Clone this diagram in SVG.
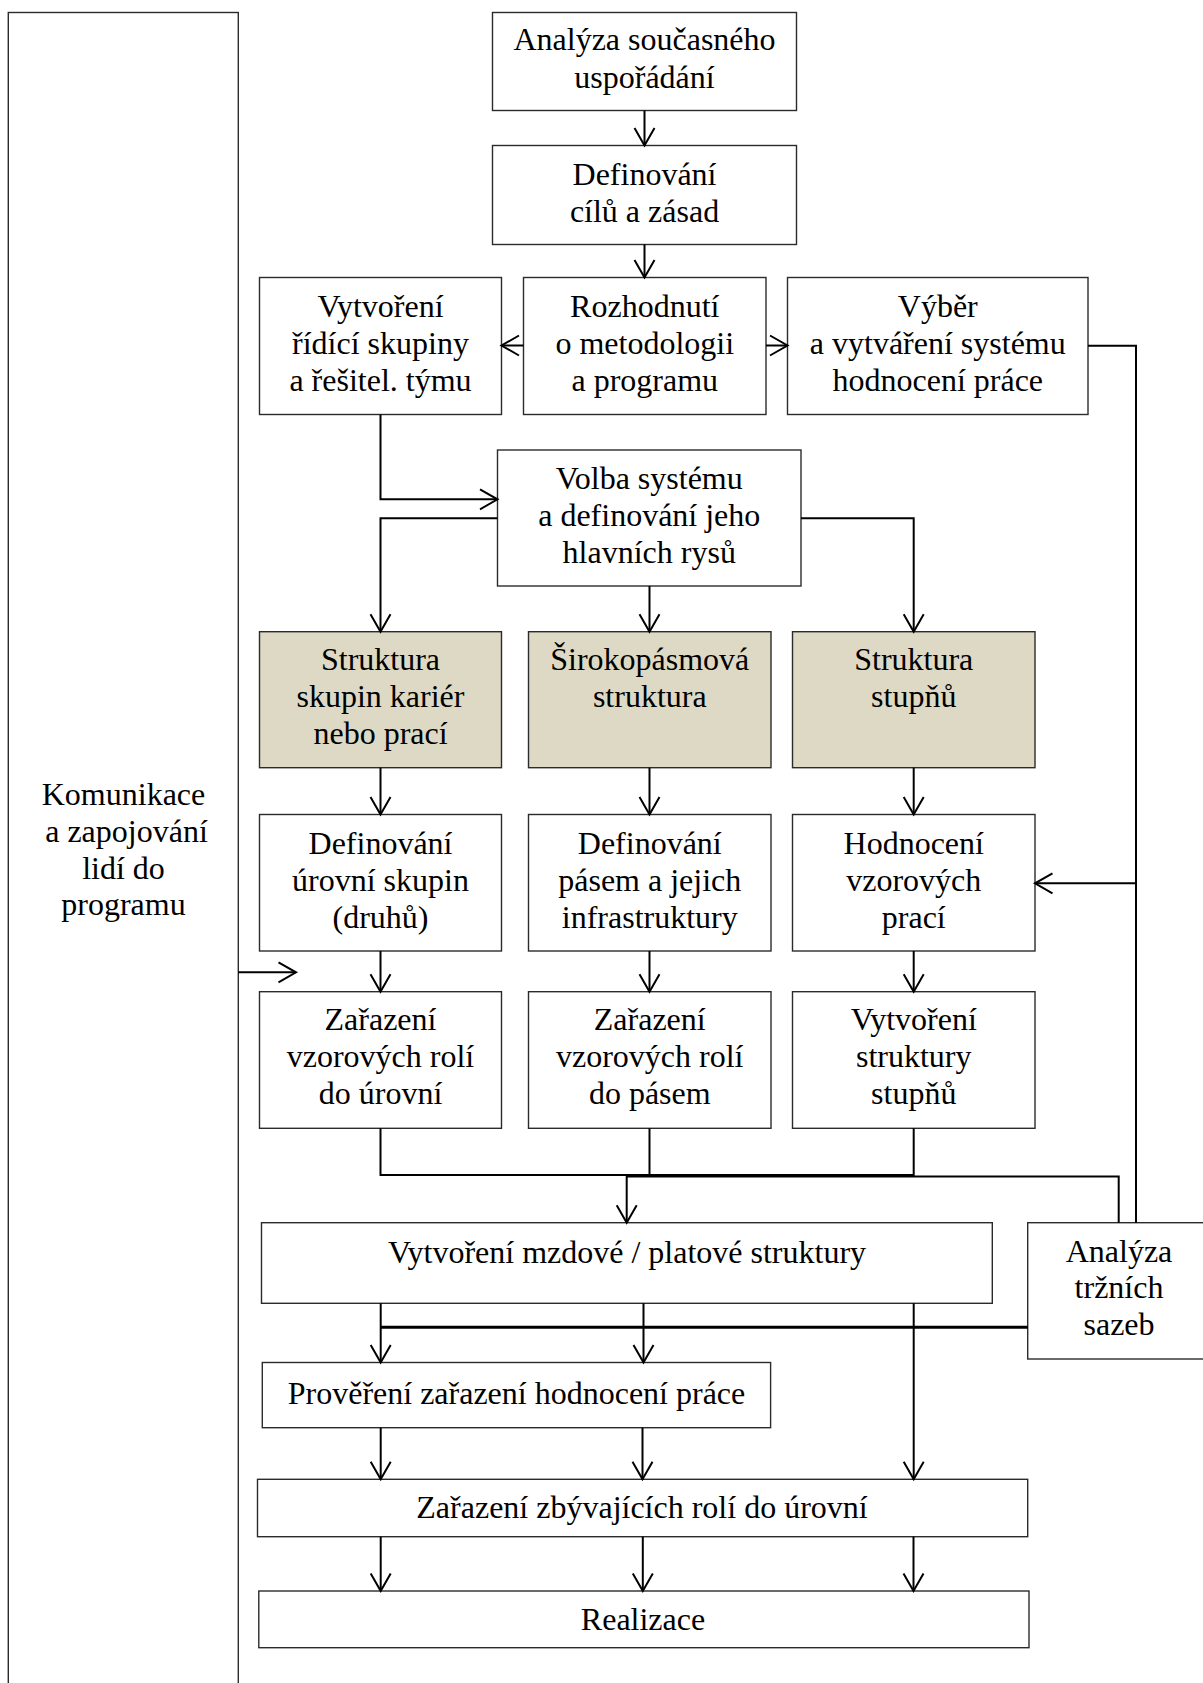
<svg xmlns="http://www.w3.org/2000/svg" width="1203" height="1683" viewBox="0 0 1203 1683">
  <defs>
    <marker id="arr" viewBox="-20 -12 22 24" markerWidth="22" markerHeight="24" refX="0" refY="0" orient="auto" markerUnits="userSpaceOnUse" overflow="visible">
      <path d="M -17.5 -10 L 0 0 L -17.5 10" fill="none" stroke="#000" stroke-width="2"/>
    </marker>
    <style>
      .box { fill: #ffffff; stroke: #2b2b2b; stroke-width: 1.4; }
      .tan { fill: #ddd9c4; stroke: #2b2b2b; stroke-width: 1.4; }
      .lbl { font-family: "Liberation Serif", "Times New Roman", serif; font-size: 32px; fill: #000; text-anchor: middle; }
      .ln { fill: none; stroke: #000; stroke-width: 2; }
      .ar { fill: none; stroke: #000; stroke-width: 2; marker-end: url(#arr); }
    </style>
  </defs>
  <rect width="1203" height="1683" fill="#ffffff"/>

  <!-- side column -->
  <g id="komunikace">
    <rect class="box" x="8.3" y="12.5" width="230" height="1700"/>
    <text class="lbl" x="123.5" y="805">Komunikace</text>
    <text class="lbl" x="126.5" y="841.5">a zapojování</text>
    <text class="lbl" x="123.5" y="878.5">lidí do</text>
    <text class="lbl" x="123.5" y="915">programu</text>
  </g>

  <g id="analyza-soucasneho">
    <rect class="box" x="492.5" y="12.5" width="304" height="98"/>
    <text class="lbl" x="644.5" y="50">Analýza současného</text>
    <text class="lbl" x="644.5" y="87.5">uspořádání</text>
  </g>

  <g id="definovani-cilu">
    <rect class="box" x="492.5" y="145.5" width="304" height="99"/>
    <text class="lbl" x="644.5" y="184.5">Definování</text>
    <text class="lbl" x="644.5" y="221.5">cílů a zásad</text>
  </g>

  <g id="ridici-skupina">
    <rect class="box" x="259.5" y="277.5" width="242" height="137"/>
    <text class="lbl" x="380.5" y="317">Vytvoření</text>
    <text class="lbl" x="380.5" y="354">řídící skupiny</text>
    <text class="lbl" x="380.5" y="391">a řešitel. týmu</text>
  </g>

  <g id="rozhodnuti">
    <rect class="box" x="523.5" y="277.5" width="242.5" height="137"/>
    <text class="lbl" x="644.75" y="317">Rozhodnutí</text>
    <text class="lbl" x="644.75" y="354">o metodologii</text>
    <text class="lbl" x="644.75" y="391">a programu</text>
  </g>

  <g id="vyber-systemu">
    <rect class="box" x="787.5" y="277.5" width="300.5" height="137"/>
    <text class="lbl" x="937.75" y="317">Výběr</text>
    <text class="lbl" x="937.75" y="354">a vytváření systému</text>
    <text class="lbl" x="937.75" y="391">hodnocení práce</text>
  </g>

  <g id="volba-systemu">
    <rect class="box" x="497.5" y="450" width="303.5" height="136"/>
    <text class="lbl" x="649.25" y="489">Volba systému</text>
    <text class="lbl" x="649.25" y="526">a definování jeho</text>
    <text class="lbl" x="649.25" y="563">hlavních rysů</text>
  </g>

  <g id="struktura-skupin">
    <rect class="tan" x="259.5" y="631.7" width="242" height="136"/>
    <text class="lbl" x="380.5" y="670">Struktura</text>
    <text class="lbl" x="380.5" y="707">skupin kariér</text>
    <text class="lbl" x="380.5" y="744">nebo prací</text>
  </g>

  <g id="sirokopasmova">
    <rect class="tan" x="528.5" y="631.7" width="242.5" height="136"/>
    <text class="lbl" x="649.75" y="670">Širokopásmová</text>
    <text class="lbl" x="649.75" y="707">struktura</text>
  </g>

  <g id="struktura-stupnu">
    <rect class="tan" x="792.5" y="631.7" width="242.5" height="136"/>
    <text class="lbl" x="913.75" y="670">Struktura</text>
    <text class="lbl" x="913.75" y="707">stupňů</text>
  </g>

  <g id="urovne-skupin">
    <rect class="box" x="259.5" y="814.5" width="242" height="136.5"/>
    <text class="lbl" x="380.5" y="854">Definování</text>
    <text class="lbl" x="380.5" y="891">úrovní skupin</text>
    <text class="lbl" x="380.5" y="928">(druhů)</text>
  </g>

  <g id="pasma">
    <rect class="box" x="528.5" y="814.5" width="242.5" height="136.5"/>
    <text class="lbl" x="649.75" y="854">Definování</text>
    <text class="lbl" x="649.75" y="891">pásem a jejich</text>
    <text class="lbl" x="649.75" y="928">infrastruktury</text>
  </g>

  <g id="hodnoceni-praci">
    <rect class="box" x="792.5" y="814.5" width="242.5" height="136.5"/>
    <text class="lbl" x="913.75" y="854">Hodnocení</text>
    <text class="lbl" x="913.75" y="891">vzorových</text>
    <text class="lbl" x="913.75" y="928">prací</text>
  </g>

  <g id="role-urovne">
    <rect class="box" x="259.5" y="991.7" width="242" height="136.6"/>
    <text class="lbl" x="380.5" y="1030">Zařazení</text>
    <text class="lbl" x="380.5" y="1067">vzorových rolí</text>
    <text class="lbl" x="380.5" y="1104">do úrovní</text>
  </g>

  <g id="role-pasma">
    <rect class="box" x="528.5" y="991.7" width="242.5" height="136.6"/>
    <text class="lbl" x="649.75" y="1030">Zařazení</text>
    <text class="lbl" x="649.75" y="1067">vzorových rolí</text>
    <text class="lbl" x="649.75" y="1104">do pásem</text>
  </g>

  <g id="struktura-stupnu-vytvoreni">
    <rect class="box" x="792.5" y="991.7" width="242.5" height="136.6"/>
    <text class="lbl" x="913.75" y="1030">Vytvoření</text>
    <text class="lbl" x="913.75" y="1067">struktury</text>
    <text class="lbl" x="913.75" y="1104">stupňů</text>
  </g>

  <g id="mzdova-struktura">
    <rect class="box" x="261.5" y="1222.7" width="730.8" height="80.6"/>
    <text class="lbl" x="627" y="1263.3">Vytvoření mzdové / platové struktury</text>
  </g>

  <g id="trzni-sazby">
    <rect class="box" x="1027.7" y="1222.7" width="182" height="136.3"/>
    <text class="lbl" x="1119" y="1261.7">Analýza</text>
    <text class="lbl" x="1119" y="1298.3">tržních</text>
    <text class="lbl" x="1119" y="1335">sazeb</text>
  </g>

  <g id="provereni">
    <rect class="box" x="262.3" y="1362.5" width="508.3" height="65.2"/>
    <text class="lbl" x="516.5" y="1404">Prověření zařazení hodnocení práce</text>
  </g>

  <g id="zbyvajici-role">
    <rect class="box" x="257.5" y="1479.3" width="770.2" height="57.4"/>
    <text class="lbl" x="642" y="1518">Zařazení zbývajících rolí do úrovní</text>
  </g>

  <g id="realizace">
    <rect class="box" x="258.8" y="1591" width="770.2" height="56.7"/>
    <text class="lbl" x="643" y="1630">Realizace</text>
  </g>

  <!-- connectors -->
  <g id="connectors">
    <path class="ar" d="M 644.5 110.5 V 145.5"/>
    <path class="ar" d="M 644.5 244.5 V 277.5"/>
    <path class="ar" d="M 523.5 345.5 H 501.5"/>
    <path class="ar" d="M 766 345.5 H 787.5"/>
    <path class="ln" d="M 1088 345.7 H 1136 V 1222.7"/>
    <path class="ar" d="M 1136 883.3 H 1035"/>

    <path class="ar" d="M 380.5 414.5 V 499.3 H 497.5"/>
    <path class="ar" d="M 497.5 518.3 H 380.5 V 631.7"/>
    <path class="ar" d="M 649.5 586 V 631.7"/>
    <path class="ar" d="M 801 518.3 H 913.7 V 631.7"/>

    <path class="ar" d="M 380.5 767.7 V 814.5"/>
    <path class="ar" d="M 649.5 767.7 V 814.5"/>
    <path class="ar" d="M 913.7 767.7 V 814.5"/>

    <path class="ar" d="M 380.5 951 V 991.7"/>
    <path class="ar" d="M 649.5 951 V 991.7"/>
    <path class="ar" d="M 913.7 951 V 991.7"/>

    <path class="ar" d="M 238.3 972.3 H 296"/>

    <path class="ln" d="M 380.5 1128.3 V 1175 H 913.7 V 1128.3"/>
    <path class="ln" d="M 649.5 1128.3 V 1175"/>
    <path class="ar" d="M 1118.7 1222.7 V 1176.5 H 626.7 V 1222.7"/>

    <path class="ar" d="M 380.7 1303.3 V 1362.5"/>
    <path class="ar" d="M 643.5 1303.3 V 1362.5"/>
    <path class="ar" d="M 913.7 1303.3 V 1479.3"/>
    <path class="ln" d="M 1027.7 1326.7 H 380.7"/>
    <path class="ln" d="M 1027.7 1327.8 H 380.7" stroke-width="1"/>

    <path class="ar" d="M 380.7 1427.7 V 1479.3"/>
    <path class="ar" d="M 642.5 1427.7 V 1479.3"/>

    <path class="ar" d="M 380.7 1536.7 V 1591"/>
    <path class="ar" d="M 642.8 1536.7 V 1591"/>
    <path class="ar" d="M 913.5 1536.7 V 1591"/>
  </g>
</svg>
